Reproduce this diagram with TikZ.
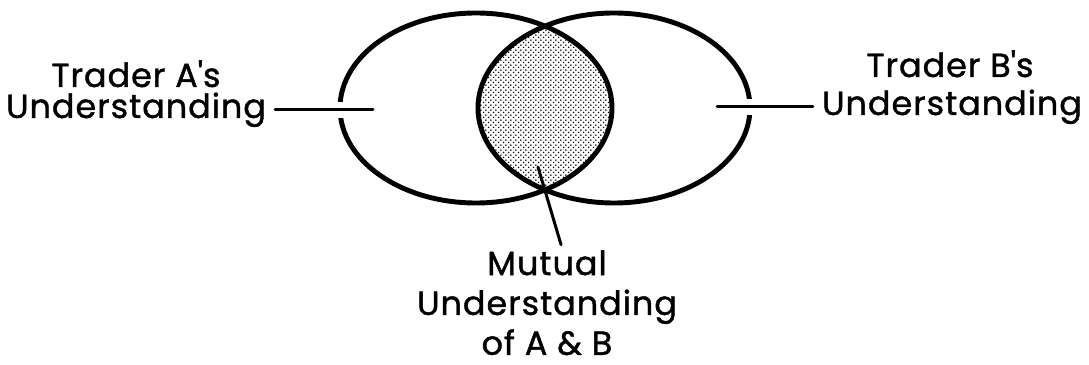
\documentclass[tikz,border=0pt]{standalone}
\usepackage{fontspec}
\setmainfont{Poppins}[LetterSpace=3, FakeBold=1.2]
\usetikzlibrary{patterns}
\pgfdeclarepatternformonly{lensdots}{\pgfqpoint{-1pt}{-1pt}}{\pgfqpoint{2pt}{2pt}}{\pgfqpoint{3pt}{3pt}}{%
	\pgfpathcircle{\pgfqpoint{0pt}{0pt}}{0.5pt}
	\pgfpathcircle{\pgfqpoint{1.5pt}{1.5pt}}{0.5pt}
	\pgfusepath{fill}}
\tikzset{
	lbl/.style={inner sep=5pt, anchor=base, font=\fontsize{19}{22}\selectfont},
	oval/.style={line width=2.8pt},
	conn/.style={line width=1.7pt},
	gapconn/.style={conn, preaction={draw=white, line width=9pt, line cap=butt}}
}
\begin{document}
\begin{tikzpicture}[x=0.02cm, y=0.02cm, line join=round, line cap=round]
	\useasboundingbox (0,0) rectangle (1089,365);
	\def\rx{136} \def\ry{95} % radii of both ovals
	\coordinate (cA) at (476,257);
	\coordinate (cB) at (614,257);
	% shared part
	\begin{scope}
		\clip (cA) ellipse [x radius=\rx, y radius=\ry];
		\fill[pattern=lensdots] (cB) ellipse [x radius=\rx, y radius=\ry];
	\end{scope}
	\draw[oval] (cA) ellipse [x radius=\rx, y radius=\ry];
	\draw[oval] (cB) ellipse [x radius=\rx, y radius=\ry];
	% labels
	\node[lbl] (labA1) at (136,278) {Trader A\textquotesingle s};
	\node[lbl] (labA2) at (136,247) {Understanding};
	\node[lbl] (labB1) at (950,288) {Trader B\textquotesingle s};
	\node[lbl] (labB2) at (952,250) {Understanding};
	\node[lbl, anchor=north, inner sep=0pt, align=center,
		font=\fontsize{19}{22.7}\selectfont] (mut) at (547,115)
		{Mutual\\Understanding\\of A \& B};
	\coordinate (aIn) at (373,257);
	\coordinate (bIn) at (717,257);
	\coordinate (lens) at (538,198);
	\draw[gapconn] (labA2.east) -- (labA2.east -| aIn);
	\draw[gapconn] (labB2.west) -- (labB2.west -| bIn);
	\draw[conn] (lens) -- ([xshift=8pt,yshift=3pt]mut.north);
\end{tikzpicture}
\end{document}
